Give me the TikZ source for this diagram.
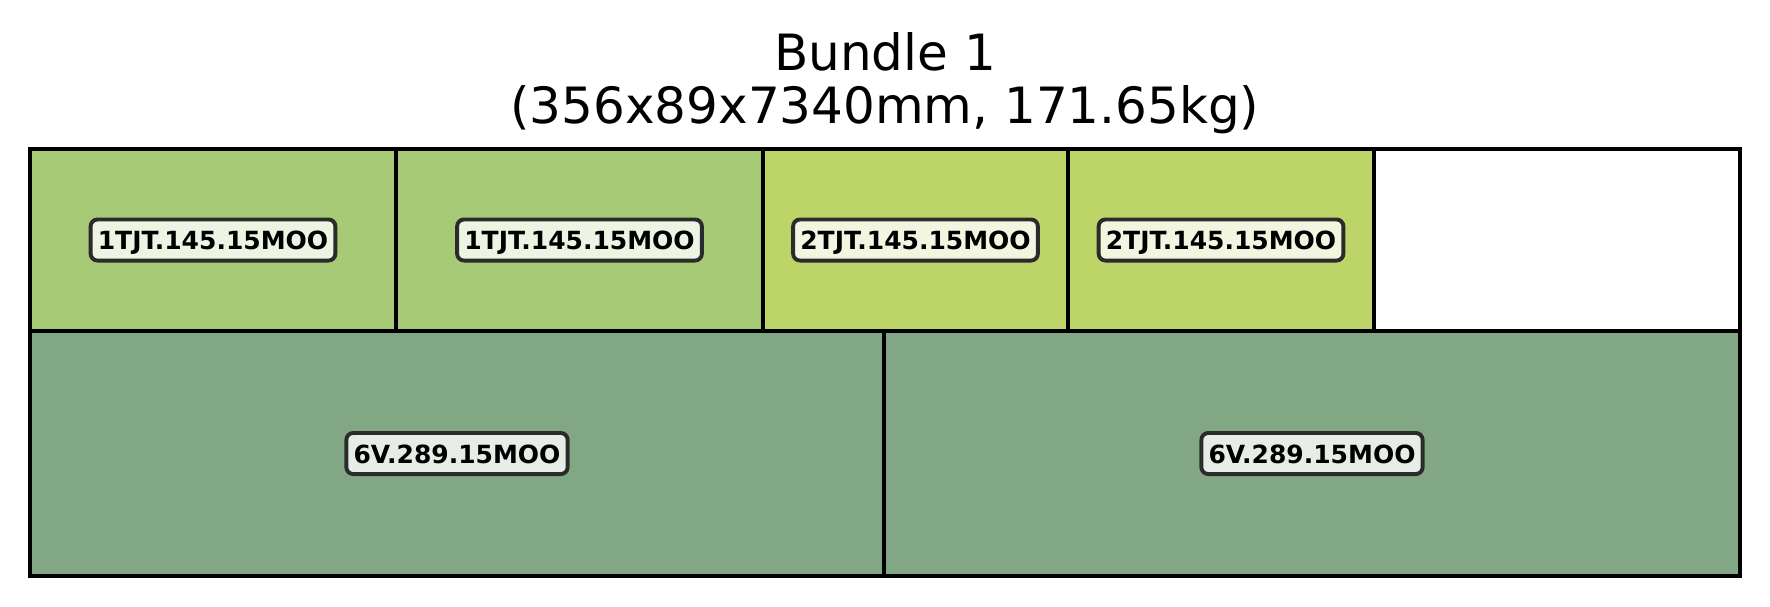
\documentclass[tikz,border=0pt]{standalone}
\usepackage{fontspec}
\setmainfont{DejaVu Sans}
\definecolor{cA}{HTML}{A7CA76}
\definecolor{cB}{HTML}{BDD469}
\definecolor{cC}{HTML}{82A785}
\definecolor{lbor}{HTML}{2B2B2B}
\tikzset{
  cellbox/.style={draw=black, line width=1.1pt},
  tag/.style={draw=lbor, line width=1.4pt, rounded corners=2.5pt, fill=white, fill opacity=0.8, text opacity=1,
    font=\fontsize{9}{10}\selectfont\bfseries, inner xsep=2.6pt, inner ysep=0pt, minimum height=14.8pt,
    text height=6.9pt, text depth=0pt},
  ttl/.style={font=\fontsize{18}{21}\selectfont, anchor=base, inner sep=0pt}
}
\begin{document}
\begin{tikzpicture}[x=0.36pt, y=-0.36pt]
\useasboundingbox[fill=white] (0,0) rectangle (1770,606);
% cells
\filldraw[cellbox, fill=cA] (30,149) rectangle (396,331);
\filldraw[cellbox, fill=cA] (396,149) rectangle (763,331);
\filldraw[cellbox, fill=cB] (763,149) rectangle (1068,331);
\filldraw[cellbox, fill=cB] (1068,149) rectangle (1374,331);
\filldraw[cellbox, fill=white] (1374,149) rectangle (1740,331);
\filldraw[cellbox, fill=cC] (30,331) rectangle (884,576);
\filldraw[cellbox, fill=cC] (884,331) rectangle (1740,576);
% labels
\node[tag] (l1) at (213,240) {1TJT.145.15MOO};
\node[tag] (l2) at (579.5,240) {1TJT.145.15MOO};
\node[tag] (l3) at (915.5,240) {2TJT.145.15MOO};
\node[tag] (l4) at (1221,240) {2TJT.145.15MOO};
\node[tag] (l5) at (457,453.5) {6V.289.15MOO};
\node[tag] (l6) at (1312,453.5) {6V.289.15MOO};
% title
\node[ttl] (t1) at (885,70) {Bundle 1};
\node[ttl] (t2) at (885,123) {(356x89x7340mm, 171.65kg)};
\end{tikzpicture}
\end{document}
